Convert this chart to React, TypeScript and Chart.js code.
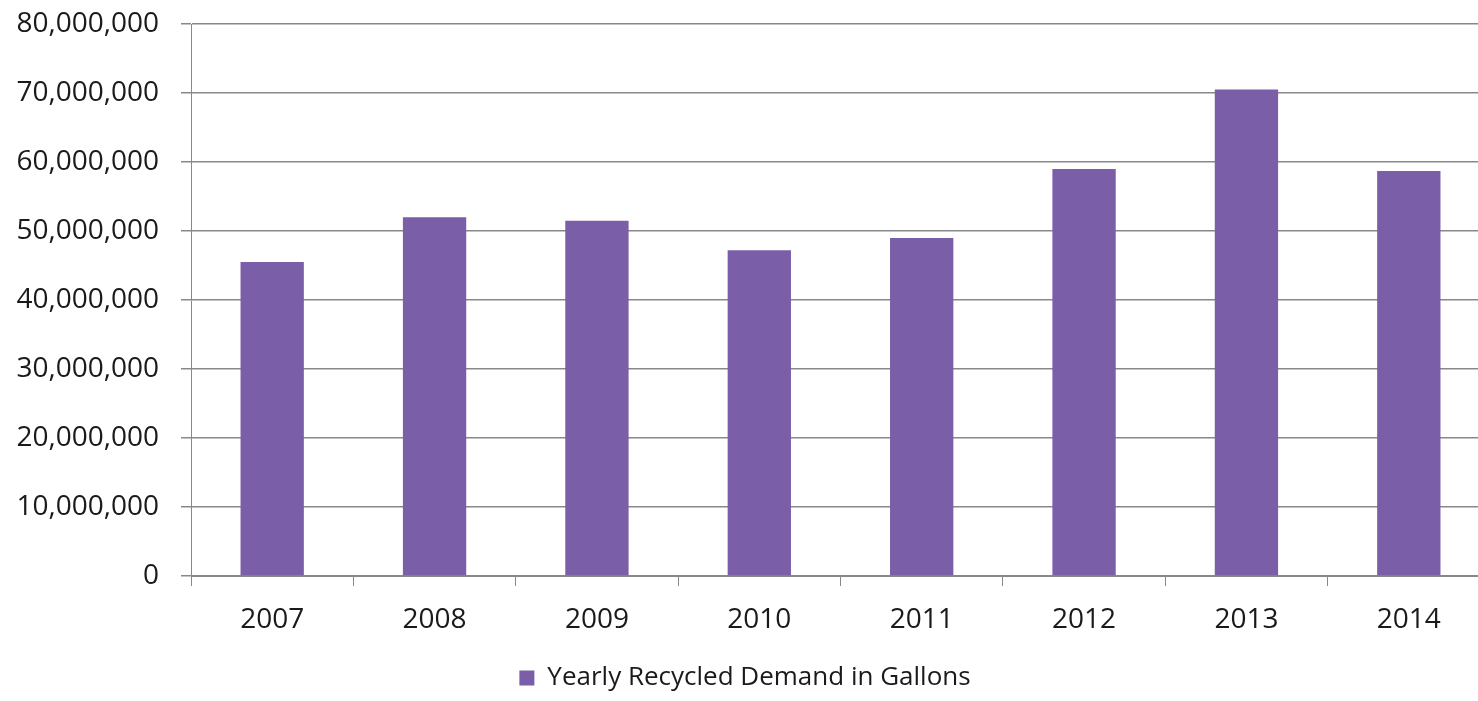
import React, { useEffect, useRef } from "react";
import { Chart, registerables } from "chart.js";

Chart.register(...registerables);

const years = ["2007", "2008", "2009", "2010", "2011", "2012", "2013", "2014"];
const demand = [45500000, 52000000, 51500000, 47200000, 49000000, 59000000, 70500000, 58700000];
const seriesLabel = "Yearly Recycled Demand in Gallons";

const FONT = "'Open Sans', 'Liberation Sans', sans-serif";

export default function App() {
  const ref = useRef<HTMLCanvasElement | null>(null);
  useEffect(() => {
    if (!ref.current) return;
    const chart = new Chart(ref.current, {
      type: "bar",
      data: {
        labels: years,
        datasets: [
          {
            label: seriesLabel,
            data: demand,
            backgroundColor: "#7B5EA8",
            borderWidth: 0,
            categoryPercentage: 1,
            barPercentage: 0.39,
          },
        ],
      },
      options: {
        responsive: false,
        animation: false,
        layout: { padding: { left: 0, right: 0, top: 24, bottom: 0 } },
        plugins: {
          tooltip: { enabled: false },
          legend: {
            position: "bottom",
            labels: {
              boxWidth: 15,
              boxHeight: 15,
              padding: 10,
              color: "#1a1a1a",
              font: { family: FONT, size: 26 },
            },
          },
        },
        scales: {
          x: {
            grid: {
              offset: true,
              drawOnChartArea: false,
              drawTicks: true,
              tickLength: 10,
              color: "#888888",
            },
            border: { display: true, color: "#888888", width: 1 },
            ticks: {
              color: "#1a1a1a",
              padding: 17,
              font: { family: FONT, size: 28 },
            },
            afterFit: (scale: any) => {
              scale.height = 79;
            },
          },
          y: {
            min: 0,
            max: 80000000,
            grid: {
              color: "#888888",
              lineWidth: 1.5,
              tickLength: 10,
            },
            border: { display: true, color: "#888888", width: 1 },
            ticks: {
              stepSize: 10000000,
              color: "#1a1a1a",
              padding: 22,
              font: { family: FONT, size: 28 },
              callback: (v: any) => Number(v).toLocaleString("en-US"),
            },
            afterFit: (scale: any) => {
              scale.width = 191;
              scale.paddingTop = 0;
              scale.paddingBottom = 0;
            },
          },
        },
      },
    });
    return () => chart.destroy();
  }, []);
  return (
    <div
      style={{
        position: "fixed",
        left: 0,
        top: 0,
        width: 1478,
        height: 701,
        overflow: "hidden",
        background: "#ffffff",
      }}
    >
      <canvas ref={ref} width={1490} height={701} style={{ display: "block" }} />
    </div>
  );
}
